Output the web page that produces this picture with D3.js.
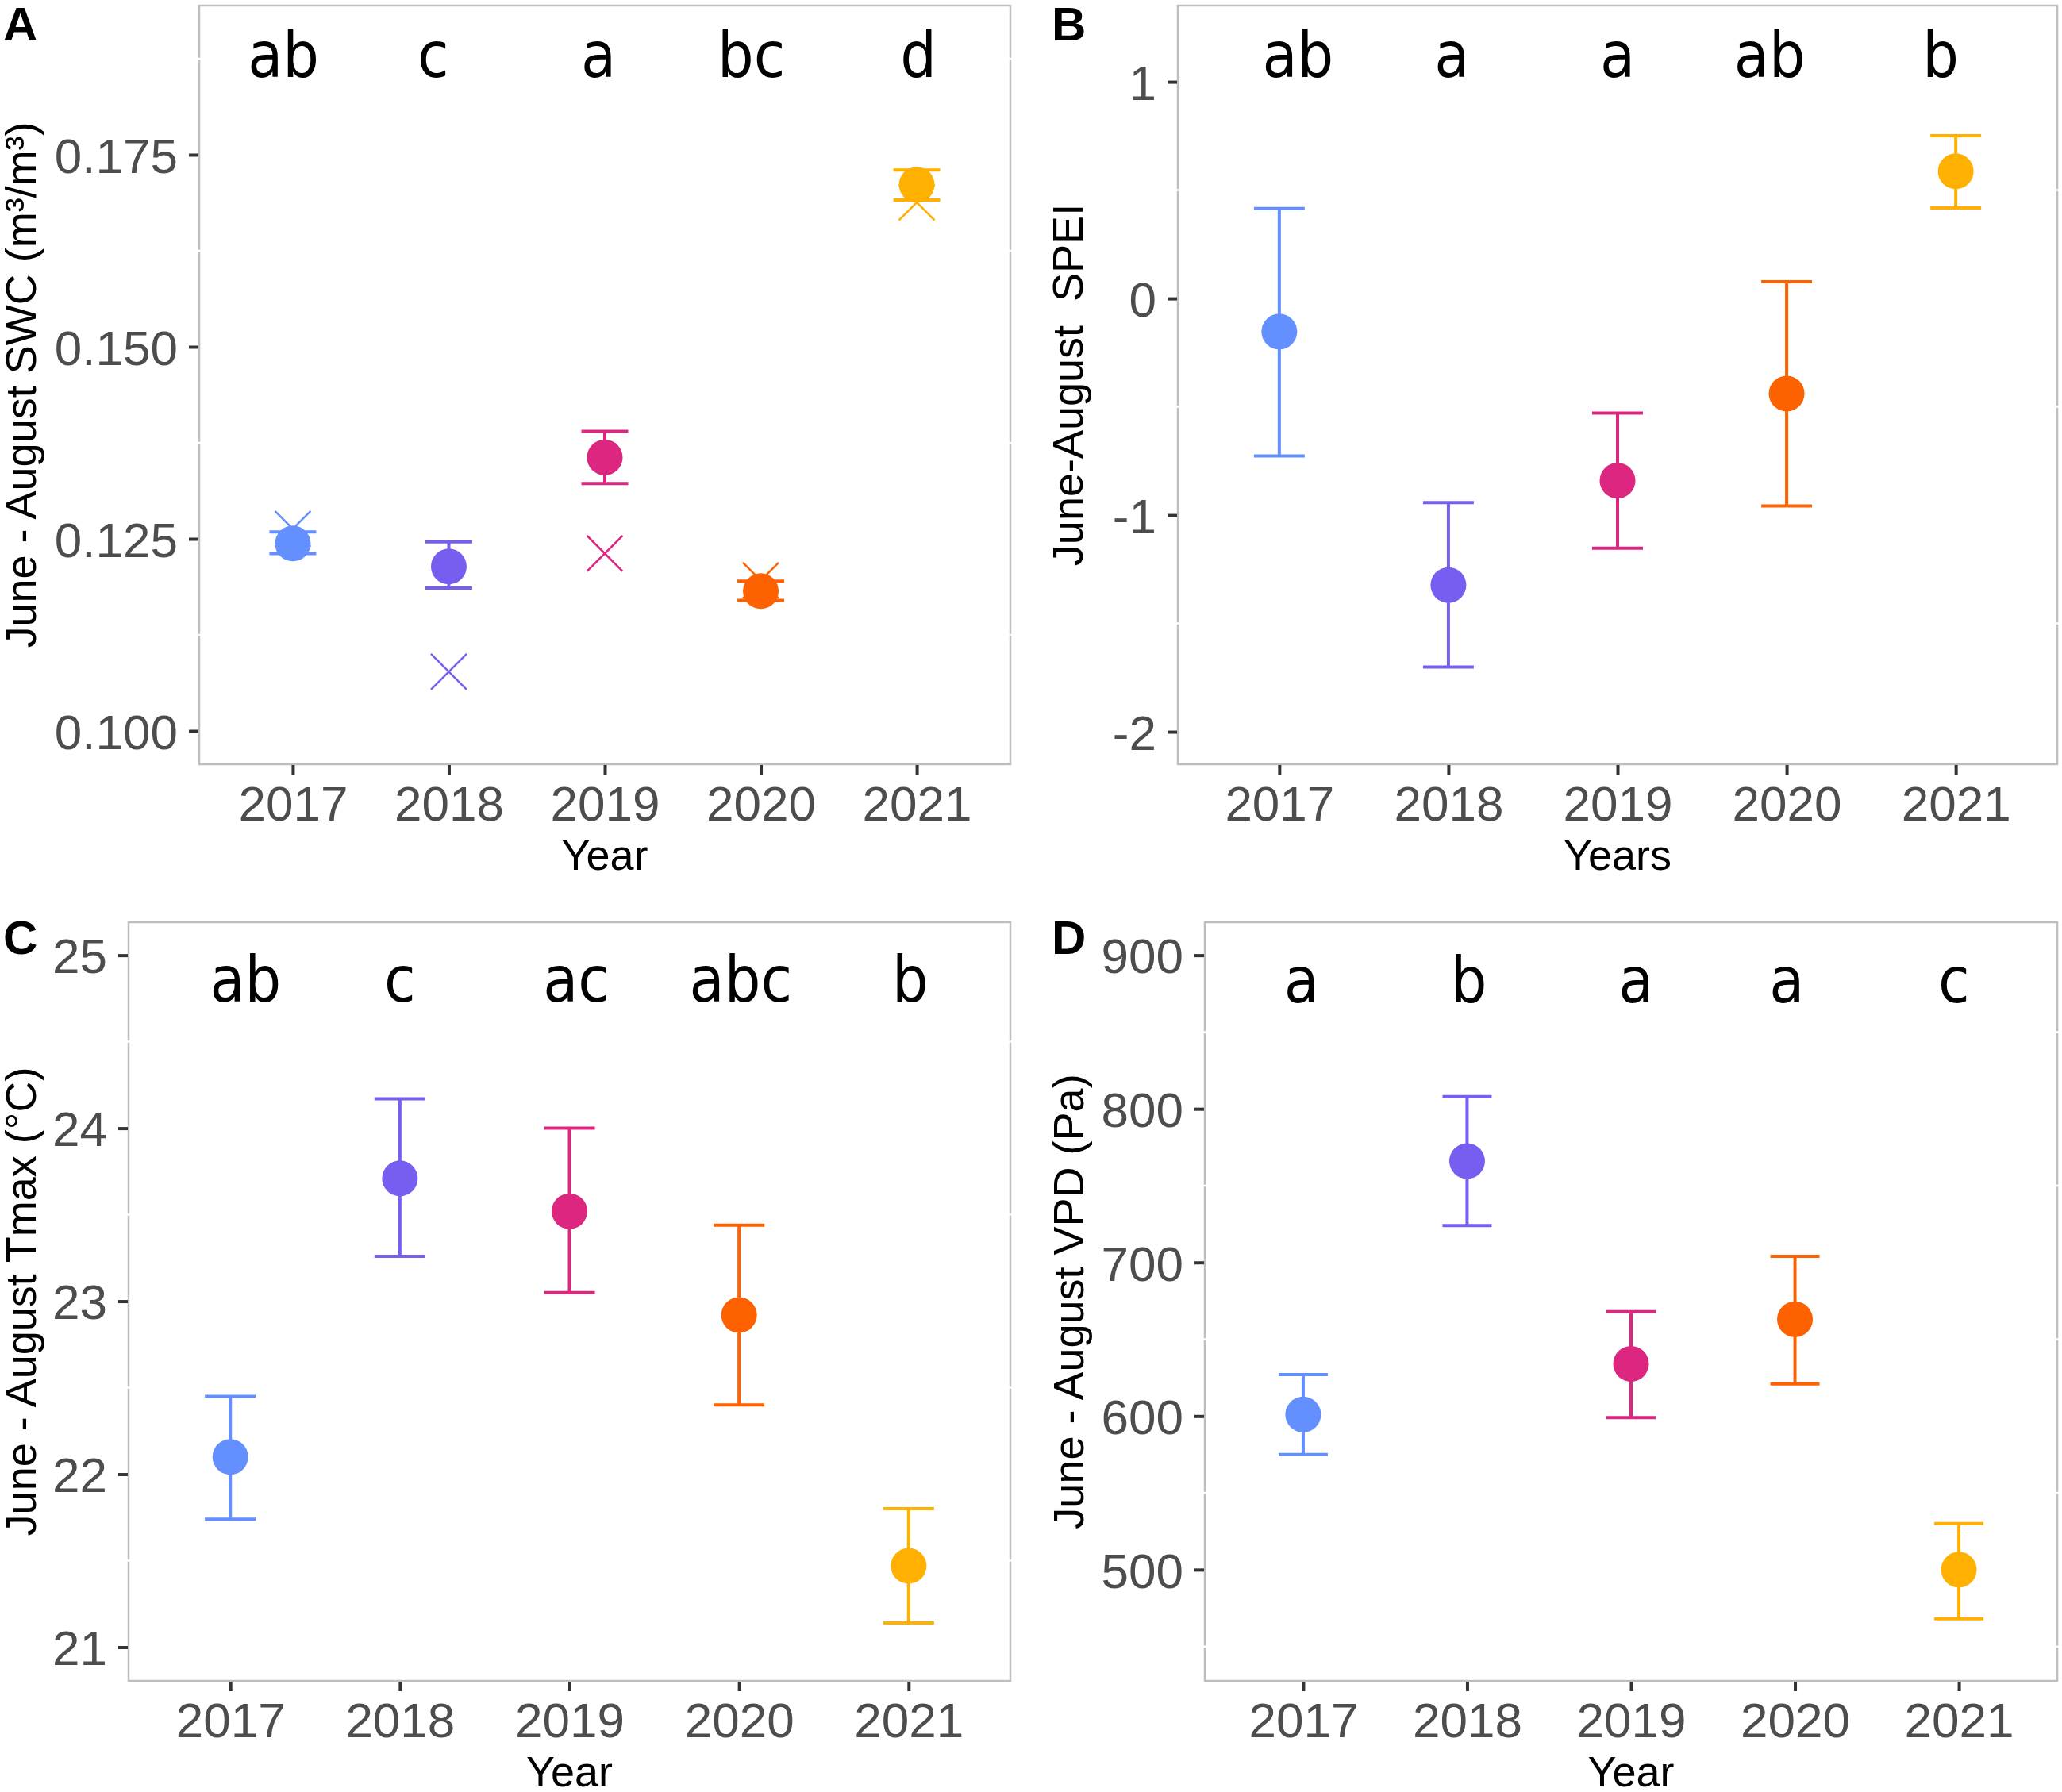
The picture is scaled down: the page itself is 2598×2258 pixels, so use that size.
<!DOCTYPE html>
<html>
<head>
<meta charset="utf-8">
<script src="https://cdn.jsdelivr.net/npm/d3@7"></script>
<style>
  body { margin: 0; background: #fff; }
</style>
</head>
<body>
<div class="container"></div>
<script>
const WIDTH = 2598;
const HEIGHT = 2258;

var years = ['2017', '2018', '2019', '2020', '2021'];
var colours = ['#648FFF', '#785EF0', '#DC267F', '#FE6100', '#FFB000'];

// A - soil water content
var swcMean = [0.1244, 0.1214, 0.1356, 0.1182, 0.1711];
var swcLow = [0.1231, 0.1186, 0.1322, 0.1170, 0.1691];
var swcHigh = [0.1259, 0.1246, 0.1390, 0.1195, 0.1730];
var swcCross = [0.1263, 0.1077, 0.1231, 0.1196, 0.1688];
var swcLetters = ['ab', 'c', 'a', 'bc', 'd'];
var swcLetterX = [0.94, 1.90, 2.96, 3.94, 5.01];
var swcTicks = [0.100, 0.125, 0.150, 0.175];

// B - SPEI
var speiMean = [-0.153, -1.323, -0.841, -0.439, 0.587];
var speiLow = [-0.727, -1.701, -1.153, -0.958, 0.418];
var speiHigh = [0.415, -0.942, -0.529, 0.077, 0.751];
var speiLetters = ['ab', 'a', 'a', 'ab', 'b'];
var speiLetterX = [1.11, 2.02, 3.00, 3.90, 4.91];
var speiTicks = [-2, -1, 0, 1];

// C - Tmax
var tmaxMean = [22.10, 23.71, 23.52, 22.92, 21.47];
var tmaxLow = [21.74, 23.26, 23.05, 22.40, 21.14];
var tmaxHigh = [22.45, 24.17, 24.00, 23.44, 21.80];
var tmaxLetters = ['ab', 'c', 'ac', 'abc', 'b'];
var tmaxLetterX = [1.09, 2.00, 3.04, 4.01, 5.01];
var tmaxTicks = [21, 22, 23, 24, 25];

// D - VPD
var vpdMean = [601, 766, 634, 663, 500];
var vpdLow = [575, 724, 599, 621, 468];
var vpdHigh = [627, 808, 668, 704, 530];
var vpdLetters = ['a', 'b', 'a', 'a', 'c'];
var vpdLetterX = [0.99, 2.01, 3.03, 3.95, 4.97];
var vpdTicks = [500, 600, 700, 800, 900];

var FONT = 'Liberation Sans, Arial, sans-serif';
var LETTER_FONT = 'Liberation Sans Narrow, Arial Narrow, DejaVu Sans Condensed, sans-serif';

var translate = function (x, y) {
  return 'translate(' + x + ',' + y + ')';
};

// plain hyphen for negatives, like R does
var intFormat = function (d) {
  return String(d);
};

var panels = [
  {label: 'A', labelX: 4, labelY: 51,
   left: 251, right: 1273, top: 7, bottom: 963, titleX: 45,
   yDomain: [0.09566, 0.19442], yTicks: swcTicks, format: d3.format('.3f'),
   mean: swcMean, low: swcLow, high: swcHigh, cross: swcCross,
   letters: swcLetters, letterX: swcLetterX, letterY: 0.1851,
   yTitle: 'June - August SWC (m³/m³)', xTitle: 'Year'},
  {label: 'B', labelX: 1325, labelY: 51,
   left: 1484, right: 2592, top: 7, bottom: 963, titleX: 1364,
   yDomain: [-2.150, 1.352], yTicks: speiTicks, format: intFormat,
   mean: speiMean, low: speiLow, high: speiHigh, cross: null,
   letters: speiLetters, letterX: speiLetterX, letterY: 1.022,
   yTitle: 'June-August  SPEI', xTitle: 'Years'},
  {label: 'C', labelX: 4, labelY: 1202,
   left: 162, right: 1273, top: 1162, bottom: 2118, titleX: 45,
   yDomain: [20.805, 25.191], yTicks: tmaxTicks, format: intFormat,
   mean: tmaxMean, low: tmaxLow, high: tmaxHigh, cross: null,
   letters: tmaxLetters, letterX: tmaxLetterX, letterY: 24.73,
   yTitle: 'June - August Tmax (°C)', xTitle: 'Year'},
  {label: 'D', labelX: 1325, labelY: 1202,
   left: 1518, right: 2592, top: 1162, bottom: 2118, titleX: 1365,
   yDomain: [427.6, 921.5], yTicks: vpdTicks, format: intFormat,
   mean: vpdMean, low: vpdLow, high: vpdHigh, cross: null,
   letters: vpdLetters, letterX: vpdLetterX, letterY: 869.5,
   yTitle: 'June - August VPD (Pa)', xTitle: 'Year'}
];

var styleAxis = function (axis) {
  axis.select('.domain').remove();
  axis.selectAll('.tick line')
    .attr('stroke', '#333333')
    .attr('stroke-width', 4);
  axis.selectAll('.tick text')
    .attr('fill', '#4D4D4D')
    .style('font-family', FONT)
    .style('font-size', '62px');
};

var drawPanel = function (svg, p) {
  var g = svg.append('g');

  var x = d3.scaleLinear()
    .domain([0.4, 5.6])
    .range([p.left, p.right]);

  var y = d3.scaleLinear()
    .domain(p.yDomain)
    .range([p.bottom, p.top]);

  var capW = (x(2) - x(1)) * 0.3;

  g.append('rect')
    .attr('x', p.left)
    .attr('y', p.top)
    .attr('width', p.right - p.left)
    .attr('height', p.bottom - p.top)
    .attr('fill', '#fff')
    .attr('stroke', '#BEBEBE')
    .attr('stroke-width', 2.5);

  // white minor grid, only visible where it cuts the border
  var half = (p.yTicks[1] - p.yTicks[0]) / 2;
  var minor = p.yTicks.map(function (t) { return t - half; })
    .concat([p.yTicks[p.yTicks.length - 1] + half])
    .filter(function (m) { return m > p.yDomain[0] && m < p.yDomain[1]; });

  g.selectAll('line.minor')
    .data(minor)
    .enter().append('line')
    .classed('minor', true)
    .attr('x1', p.left - 2)
    .attr('x2', p.right + 2)
    .attr('y1', function (d) { return y(d); })
    .attr('y2', function (d) { return y(d); })
    .attr('stroke', '#fff')
    .attr('stroke-width', 2.5);

  var yAxis = d3.axisLeft(y)
    .tickValues(p.yTicks)
    .tickFormat(p.format)
    .tickSize(12)
    .tickPadding(14);

  var ya = g.append('g')
    .attr('transform', translate(p.left - 1, 0))
    .call(yAxis);
  styleAxis(ya);
  ya.selectAll('.tick text').attr('dy', '0.36em');

  var xAxis = d3.axisBottom(x)
    .tickValues([1, 2, 3, 4, 5])
    .tickFormat(function (d) { return years[d - 1]; })
    .tickSize(12)
    .tickPadding(14);

  var xa = g.append('g')
    .attr('transform', translate(0, p.bottom + 1))
    .call(xAxis);
  styleAxis(xa);

  var rows = years.map(function (yr, i) {
    return {i: i + 1, mean: p.mean[i], low: p.low[i], high: p.high[i],
            cross: p.cross ? p.cross[i] : null, colour: colours[i]};
  });

  if (p.cross) {
    var cr = 22.5;
    g.selectAll('path.cross')
      .data(rows)
      .enter().append('path')
      .classed('cross', true)
      .attr('transform', function (d) { return translate(x(d.i), y(d.cross)); })
      .attr('d', 'M' + (-cr) + ',' + (-cr) + 'L' + cr + ',' + cr +
                 'M' + (-cr) + ',' + cr + 'L' + cr + ',' + (-cr))
      .attr('stroke', function (d) { return d.colour; })
      .attr('stroke-width', 2.5)
      .attr('fill', 'none');
  }

  g.selectAll('path.errorbar')
    .data(rows)
    .enter().append('path')
    .classed('errorbar', true)
    .attr('d', function (d) {
      var cx = x(d.i), lo = y(d.low), hi = y(d.high);
      return 'M' + (cx - capW / 2) + ',' + hi + 'H' + (cx + capW / 2) +
             'M' + cx + ',' + hi + 'V' + lo +
             'M' + (cx - capW / 2) + ',' + lo + 'H' + (cx + capW / 2);
    })
    .attr('stroke', function (d) { return d.colour; })
    .attr('stroke-width', 4)
    .attr('fill', 'none');

  g.selectAll('circle.dot')
    .data(rows)
    .enter().append('circle')
    .classed('dot', true)
    .attr('r', 22.5)
    .attr('cx', function (d) { return x(d.i); })
    .attr('cy', function (d) { return y(d.mean); })
    .attr('fill', function (d) { return d.colour; });

  g.selectAll('text.letter')
    .data(p.letters)
    .enter().append('text')
    .classed('letter', true)
    .attr('x', function (d, i) { return x(p.letterX[i]); })
    .attr('y', y(p.letterY))
    .attr('text-anchor', 'middle')
    .style('font-family', LETTER_FONT)
    .style('font-size', '80px')
    .attr('fill', '#000')
    .text(function (d) { return d; });

  g.append('text')
    .attr('transform', translate(p.titleX, (p.top + p.bottom) / 2) + ' rotate(-90)')
    .attr('text-anchor', 'middle')
    .style('font-family', FONT)
    .style('font-size', '54px')
    .style('white-space', 'pre')
    .attr('fill', '#000')
    .text(p.yTitle);

  g.append('text')
    .attr('x', (p.left + p.right) / 2)
    .attr('y', p.bottom + 133)
    .attr('text-anchor', 'middle')
    .style('font-family', FONT)
    .style('font-size', '54px')
    .attr('fill', '#000')
    .text(p.xTitle);

  g.append('text')
    .attr('x', p.labelX)
    .attr('y', p.labelY)
    .style('font-family', FONT)
    .style('font-size', '60px')
    .style('font-weight', 'bold')
    .attr('fill', '#000')
    .text(p.label);
};

var execute = function () {
  var svg = d3.select('.container').append('svg')
    .attr('width', WIDTH)
    .attr('height', HEIGHT)
    .style('display', 'block')
    .style('background', '#fff');

  panels.forEach(function (p) {
    drawPanel(svg, p);
  });
};

window.onload = execute;
</script>
</body>
</html>
